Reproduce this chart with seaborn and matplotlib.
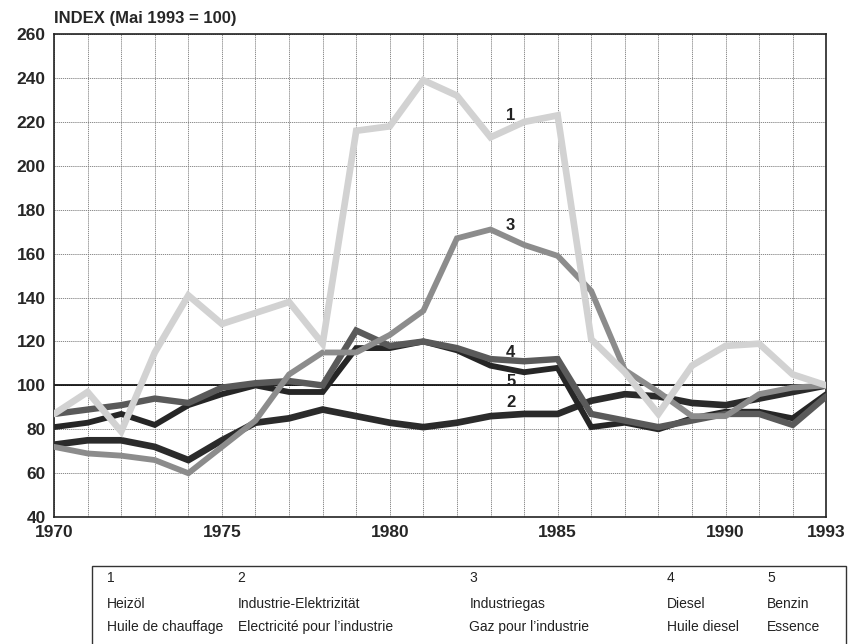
import numpy as np
import pandas as pd
import matplotlib
matplotlib.use("Agg")
import matplotlib.pyplot as plt
import seaborn as sns
from matplotlib.patches import Rectangle

years = list(range(1970, 1994))

heizoel = [87, 97, 79, 115, 141, 128, 133, 138, 119, 216, 218, 239, 232, 213, 220, 223,
           121, 106, 87, 109, 118, 119, 105, 100]
elektrizitaet = [73, 75, 75, 72, 66, 75, 83, 85, 89, 86, 83, 81, 83, 86, 87, 87,
                 93, 96, 95, 92, 91, 94, 97, 100]
industriegas = [72, 69, 68, 66, 60, 72, 84, 105, 115, 115, 123, 134, 167, 171, 164, 159,
                143, 107, 97, 86, 86, 96, 99, 100]
diesel = [87, 89, 91, 94, 92, 99, 101, 102, 100, 125, 118, 120, 117, 112, 111, 112,
          87, 84, 81, 84, 87, 87, 82, 95]
benzin = [81, 83, 87, 82, 91, 96, 100, 97, 97, 117, 117, 120, 116, 109, 106, 108,
          81, 83, 80, 85, 88, 88, 85, 96]

series_ids = ["1", "2", "3", "4", "5"]
names_de = ["Heizöl", "Industrie-Elektrizität", "Industriegas", "Diesel", "Benzin"]
names_fr = ["Huile de chauffage", "Electricité pour l’industrie", "Gaz pour l’industrie",
            "Huile diesel", "Essence"]

label_year = [1983.6, 1983.6, 1983.6, 1983.6, 1983.6]
label_value = [223, 92, 173, 115, 102]

sns.set_style("white")
plt.rcParams['font.family'] = ['Liberation Sans', 'DejaVu Sans']

fig = plt.figure(figsize=(8.58, 6.44), dpi=100)
ax = fig.add_axes([0.063, 0.197, 0.9, 0.75])

df = pd.DataFrame({"year": years, "1": heizoel, "2": elektrizitaet, "3": industriegas,
                   "4": diesel, "5": benzin})

# dark lines first, light ones on top
styles = {
    "2": dict(color="#2b2b2b", lw=4.8),
    "5": dict(color="#262626", lw=4.2),
    "4": dict(color="#5a5a5a", lw=4.6),
    "3": dict(color="#8c8c8c", lw=4.2),
    "1": dict(color="#d2d2d2", lw=4.8),
}
for sid in ["2", "5", "4", "3", "1"]:
    sns.lineplot(data=df, x="year", y=sid, ax=ax, color=styles[sid]["color"],
                 linewidth=styles[sid]["lw"], solid_joinstyle="miter", zorder=3)

ax.axhline(100, color="black", lw=1.2, zorder=2)

ax.set_xlim(1970, 1993)
ax.set_ylim(40, 260)
ax.set_xticks(range(1970, 1994), minor=True)
ax.set_xticks([1970, 1975, 1980, 1985, 1990, 1993])
ax.set_yticks(range(40, 261, 20))
ax.grid(True, which="both", axis="x", color="#777777", lw=0.6, linestyle=(0, (1.5, 1)))
ax.grid(True, which="major", axis="y", color="#777777", lw=0.6, linestyle=(0, (1.5, 1)))
ax.tick_params(axis="both", which="both", length=0, labelsize=12.5, pad=6)
for t in ax.get_xticklabels() + ax.get_yticklabels():
    t.set_fontweight("bold")
ax.set_xlabel("")
ax.set_ylabel("")
for s in ax.spines.values():
    s.set_color("#222222")
    s.set_linewidth(1.2)

for sid, yx, yv in zip(series_ids, label_year, label_value):
    ax.text(yx, yv, sid, fontsize=12, fontweight="bold", ha="center", va="center",
            color="#222222", zorder=5)

fig.text(0.063, 0.972, "INDEX (Mai 1993 = 100)", fontsize=12, fontweight="bold",
         ha="left", va="center")

# legend table below the chart
fig.patches.append(Rectangle((0.107, -0.02), 0.879, 0.141, transform=fig.transFigure,
                             fill=False, edgecolor="#333333", lw=1.0))
col_x = [0.125, 0.277, 0.547, 0.777, 0.894]
row_y = [0.103, 0.062, 0.026]
for cx, sid, de, fr in zip(col_x, series_ids, names_de, names_fr):
    for ry, txt in zip(row_y, [sid, de, fr]):
        fig.text(cx, ry, txt, fontsize=10, ha="left", va="center", color="#222222")

plt.savefig("out.png", dpi=100)
